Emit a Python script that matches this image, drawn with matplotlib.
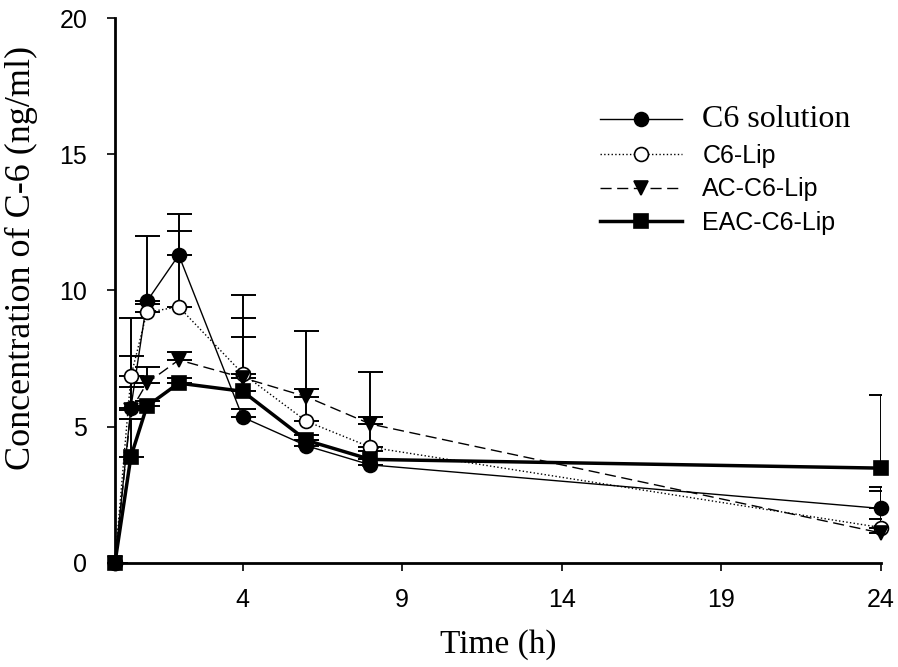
import numpy as np
import matplotlib
matplotlib.use("Agg")
import matplotlib.pyplot as plt

# ── data ────────────────────────────────────────────────────────────────
time_h = [0, 0.5, 1, 2, 4, 6, 8, 24]

c6_sol = [0, 5.7, 9.6, 11.3, 5.35, 4.3, 3.6, 2.0]
c6_sol_sd = [0, 0.75, 2.4, 0.9, 0.3, 0.2, 0.2, 0.8]

c6_lip = [0, 6.85, 9.2, 9.4, 6.95, 5.2, 4.25, 1.3]
c6_lip_sd = [0, 2.15, 0.3, 3.4, 2.9, 1.2, 1.1, 1.35]

ac_lip = [0, 5.6, 6.6, 7.45, 6.8, 6.1, 5.1, 1.1]
ac_lip_sd = [0, 2.0, 0.6, 0.3, 2.2, 2.4, 1.9, 0.5]

eac_lip = [0, 3.9, 5.75, 6.6, 6.3, 4.5, 3.8, 3.48]
eac_lip_sd = [0, 1.4, 0.2, 0.2, 2.0, 0.2, 0.3, 2.67]

x_ticks = [4, 9, 14, 19, 24]
y_ticks = [0, 5, 10, 15, 20]

SERIF = "Liberation Serif"
SANS = "Liberation Sans"

fig = plt.figure(figsize=(8.98, 6.67), dpi=100)
ax = fig.add_axes([0.128, 0.156, 0.853, 0.817])


def draw(y, sd, label, ls, lw, marker, mfc, dashes=None):
    y = np.array(y)
    sd = np.array(sd)
    ax.errorbar(time_h, y, yerr=[np.zeros_like(sd), sd], fmt="none",
                ecolor="black", elinewidth=1.4, capsize=9, capthick=1.4,
                zorder=2)
    line, = ax.plot(time_h, y, color="black", linestyle=ls, linewidth=lw,
                    marker=marker, markersize=10, markerfacecolor=mfc,
                    markeredgecolor="black", markeredgewidth=1.2,
                    label=label, zorder=3, clip_on=False)
    if dashes is not None:
        line.set_dashes(dashes)
    return line


draw(c6_sol, c6_sol_sd, "C6 solution", "-", 1.0, "o", "black")
draw(c6_lip, c6_lip_sd, "C6-Lip", ":", 1.0, "o", "white")
draw(ac_lip, ac_lip_sd, "AC-C6-Lip", "--", 1.0, "v", "black", dashes=(8, 4))
draw(eac_lip, eac_lip_sd, "EAC-C6-Lip", "-", 2.5, "s", "black")

ax.set_xlim(0, 24)
ax.set_ylim(0, 20)
ax.set_xticks(x_ticks)
ax.set_yticks(y_ticks)
for lab in ax.get_xticklabels() + ax.get_yticklabels():
    lab.set_fontfamily(SANS)
    lab.set_fontsize(18)

ax.spines["top"].set_visible(False)
ax.spines["right"].set_visible(False)
ax.spines["left"].set_linewidth(2)
ax.spines["bottom"].set_linewidth(2)
ax.tick_params(direction="out", length=6, width=1.2)
ax.tick_params(axis="x", pad=12)
ax.tick_params(axis="y", pad=14)

ax.set_xlabel("Time (h)", fontfamily=SERIF, fontsize=24, va="top")
ax.xaxis.set_label_coords(0.5, -0.122)
ax.set_ylabel("Concentration of C-6 (ng/ml)", fontfamily=SERIF, fontsize=26)
ax.yaxis.set_label_coords(-0.1, 0.56)

leg = ax.legend(loc="upper left", bbox_to_anchor=(0.668, 0.842),
                bbox_transform=fig.transFigure, frameon=False,
                borderpad=0, borderaxespad=0,
                handlelength=3.3, handletextpad=0.8, labelspacing=0.38,
                prop={"family": SANS, "size": 18})
leg.get_texts()[0].set_fontfamily(SERIF)
leg.get_texts()[0].set_fontsize(23)

fig.savefig("out.png", dpi=100)
